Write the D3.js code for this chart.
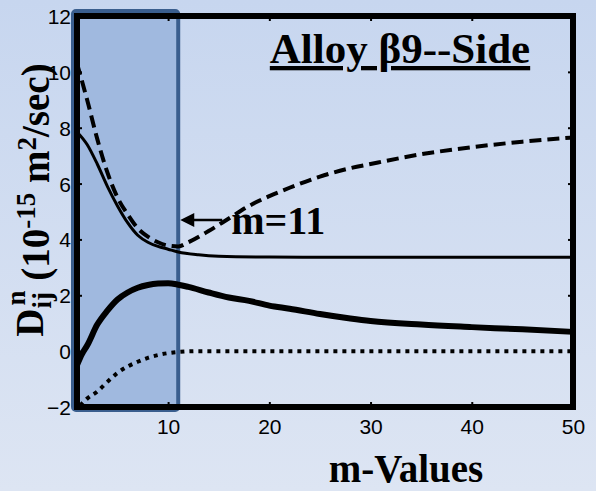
<!DOCTYPE html>
<html>
<head>
<meta charset="utf-8">
<script src="https://cdn.jsdelivr.net/npm/d3@7/dist/d3.min.js"></script>
<style>
  html, body { margin: 0; padding: 0; }
  svg { display: block; }
</style>
</head>
<body>
<script>
// m-values and diffusion coefficient curves (units of 1e-15 m^2/sec)
const dashedM = [1, 2, 3, 4, 5, 6, 7, 8, 9, 10, 11, 12, 14, 16, 18, 20, 22, 25, 28, 30, 35, 40, 45, 50];
const dashedD = [10.3, 9.0, 7.6, 6.4, 5.5, 4.9, 4.4, 4.1, 3.9, 3.78, 3.75, 3.9, 4.3, 4.75, 5.2, 5.55, 5.85, 6.25, 6.55, 6.7, 7.05, 7.3, 7.5, 7.65];

const upperM = [1, 2, 3, 4, 5, 6, 7, 8, 9, 10, 11, 13, 15, 20, 30, 40, 50];
const upperD = [7.85, 7.4, 6.7, 5.9, 5.2, 4.6, 4.15, 3.9, 3.75, 3.65, 3.55, 3.45, 3.4, 3.37, 3.36, 3.36, 3.36];

const lowerM = [1, 1.5, 2, 3, 4, 5, 6, 7, 8, 9, 10, 11, 12, 14, 16, 18, 20, 22, 25, 28, 30, 35, 40, 45, 50];
const lowerD = [-0.5, -0.1, 0.2, 0.95, 1.45, 1.85, 2.1, 2.27, 2.37, 2.42, 2.43, 2.38, 2.3, 2.1, 1.92, 1.8, 1.63, 1.52, 1.33, 1.17, 1.08, 0.95, 0.86, 0.78, 0.69];

const dottedM = [1.3, 2, 3, 4, 5, 6, 7, 8, 9, 10, 11, 13, 20, 30, 40, 50];
const dottedD = [-1.95, -1.7, -1.45, -1.1, -0.78, -0.55, -0.38, -0.24, -0.14, -0.07, -0.03, 0, 0, 0, 0, 0];

const xTicks = [10, 20, 30, 40, 50];
const yTicks = [-2, 0, 2, 4, 6, 8, 10, 12];
const shadeRange = [1, 11];   // highlighted m interval
const markM = 11;             // annotated m value
const titleText = "Alloy β9--Side";
const xLabel = "m-Values";

const W = 596, H = 491;
const pLeft = 77, pRight = 573, pTop = 16, pBottom = 407;

const svg = d3.select("body").append("svg").attr("width", W).attr("height", H);

const defs = svg.append("defs");
const grad = defs.append("linearGradient").attr("id", "bg").attr("x1", 0).attr("y1", 0).attr("x2", 0).attr("y2", 1);
grad.append("stop").attr("offset", "0%").attr("stop-color", "#c7d6ef");
grad.append("stop").attr("offset", "100%").attr("stop-color", "#dde5f3");
svg.append("rect").attr("width", W).attr("height", H).attr("fill", "url(#bg)");

const x = d3.scaleLinear().domain([1, 50]).range([pLeft, pRight]);
const y = d3.scaleLinear().domain([-2, 12]).range([pBottom, pTop]);

// highlighted interval
svg.append("rect")
  .attr("x", x(shadeRange[0]) - 4)
  .attr("y", y(12) - 5)
  .attr("width", x(shadeRange[1]) - x(shadeRange[0]) + 4)
  .attr("height", y(-2) - y(12) + 8)
  .attr("rx", 3)
  .attr("fill", "#a0b9df")
  .attr("stroke", "#3a5e8e")
  .attr("stroke-width", 4);

const line = d3.line().x(d => x(d[0])).y(d => y(d[1])).curve(d3.curveMonotoneX);
const pts = (ms, ds) => ms.map((m, i) => [m, ds[i]]);

const plot = svg.append("g");
plot.append("path").datum(pts(dashedM, dashedD)).attr("d", line)
  .attr("fill", "none").attr("stroke", "#000").attr("stroke-width", 4).attr("stroke-dasharray", "12,6");
plot.append("path").datum(pts(upperM, upperD)).attr("d", line)
  .attr("fill", "none").attr("stroke", "#000").attr("stroke-width", 3);
plot.append("path").datum(pts(lowerM, lowerD)).attr("d", line)
  .attr("fill", "none").attr("stroke", "#000").attr("stroke-width", 6);
plot.append("path").datum(pts(dottedM, dottedD)).attr("d", line)
  .attr("fill", "none").attr("stroke", "#000").attr("stroke-width", 4).attr("stroke-dasharray", "4,5");

// axes with inward ticks
const tickFont = "'Liberation Sans', Arial, sans-serif";
const gx = svg.append("g").attr("transform", `translate(0,${pBottom})`)
  .call(d3.axisBottom(x).tickValues(xTicks).tickSizeInner(-5).tickSizeOuter(0).tickPadding(12));
const gy = svg.append("g").attr("transform", `translate(${pLeft},0)`)
  .call(d3.axisLeft(y).tickValues(yTicks).tickSizeInner(-5).tickSizeOuter(0).tickPadding(6));
const gx2 = svg.append("g").attr("transform", `translate(0,${pTop})`)
  .call(d3.axisTop(x).tickValues(xTicks).tickSizeInner(-5).tickSizeOuter(0).tickFormat(""));
const gy2 = svg.append("g").attr("transform", `translate(${pRight},0)`)
  .call(d3.axisRight(y).tickValues(yTicks).tickSizeInner(-5).tickSizeOuter(0).tickFormat(""));
[gx, gy, gx2, gy2].forEach(g => {
  g.select(".domain").remove();
  g.selectAll(".tick line").attr("stroke", "#000").attr("stroke-width", 2);
  g.selectAll(".tick text").attr("fill", "#000").style("font-family", tickFont).style("font-size", "21px");
});
gy.selectAll(".tick text").attr("dy", "0.36em");

// frame
svg.append("rect").attr("x", pLeft).attr("y", pTop).attr("width", pRight - pLeft).attr("height", pBottom - pTop)
  .attr("fill", "none").attr("stroke", "#000").attr("stroke-width", 6);

const serif = "'Liberation Serif', 'Times New Roman', serif";

// title
svg.append("text").attr("x", 400).attr("y", 63).attr("text-anchor", "middle")
  .style("font-family", serif).style("font-weight", "bold").style("font-size", "43px")
  .style("text-decoration", "underline").attr("fill", "#000").text(titleText);

// annotation arrow
const ay = 220;
svg.append("line").attr("x1", x(markM) + 44).attr("x2", x(markM) + 8).attr("y1", ay).attr("y2", ay)
  .attr("stroke", "#000").attr("stroke-width", 2.5);
svg.append("path")
  .attr("d", `M${x(markM) + 2},${ay} L${x(markM) + 16},${ay - 7} L${x(markM) + 16},${ay + 7} Z`)
  .attr("fill", "#000");
svg.append("text").attr("x", x(markM) + 53).attr("y", 234)
  .style("font-family", serif).style("font-weight", "bold").style("font-size", "40px")
  .attr("fill", "#000").text(`m=${markM}`);

// x label
svg.append("text").attr("x", 406).attr("y", 482).attr("text-anchor", "middle")
  .style("font-family", serif).style("font-weight", "bold").style("font-size", "39px")
  .attr("fill", "#000").text(xLabel);

// y label
const yl = svg.append("text").attr("transform", "translate(43,200) rotate(-90)").attr("text-anchor", "middle")
  .style("font-family", serif).style("font-weight", "bold").style("font-size", "39px").attr("fill", "#000");
yl.append("tspan").text("D");
yl.append("tspan").attr("dy", "0.3em").style("font-size", "27px").text("ij");
yl.append("tspan").attr("dy", "-0.95em").attr("dx", "-0.5em").style("font-size", "27px").text("n");
yl.append("tspan").attr("dy", "0.6em").text(" (10");
yl.append("tspan").attr("dy", "-0.5em").style("font-size", "27px").text("-15");
yl.append("tspan").attr("dy", "0.35em").text(" m");
yl.append("tspan").attr("dy", "-0.5em").style("font-size", "27px").text("2");
yl.append("tspan").attr("dy", "0.35em").text("/sec)");
</script>
</body>
</html>
